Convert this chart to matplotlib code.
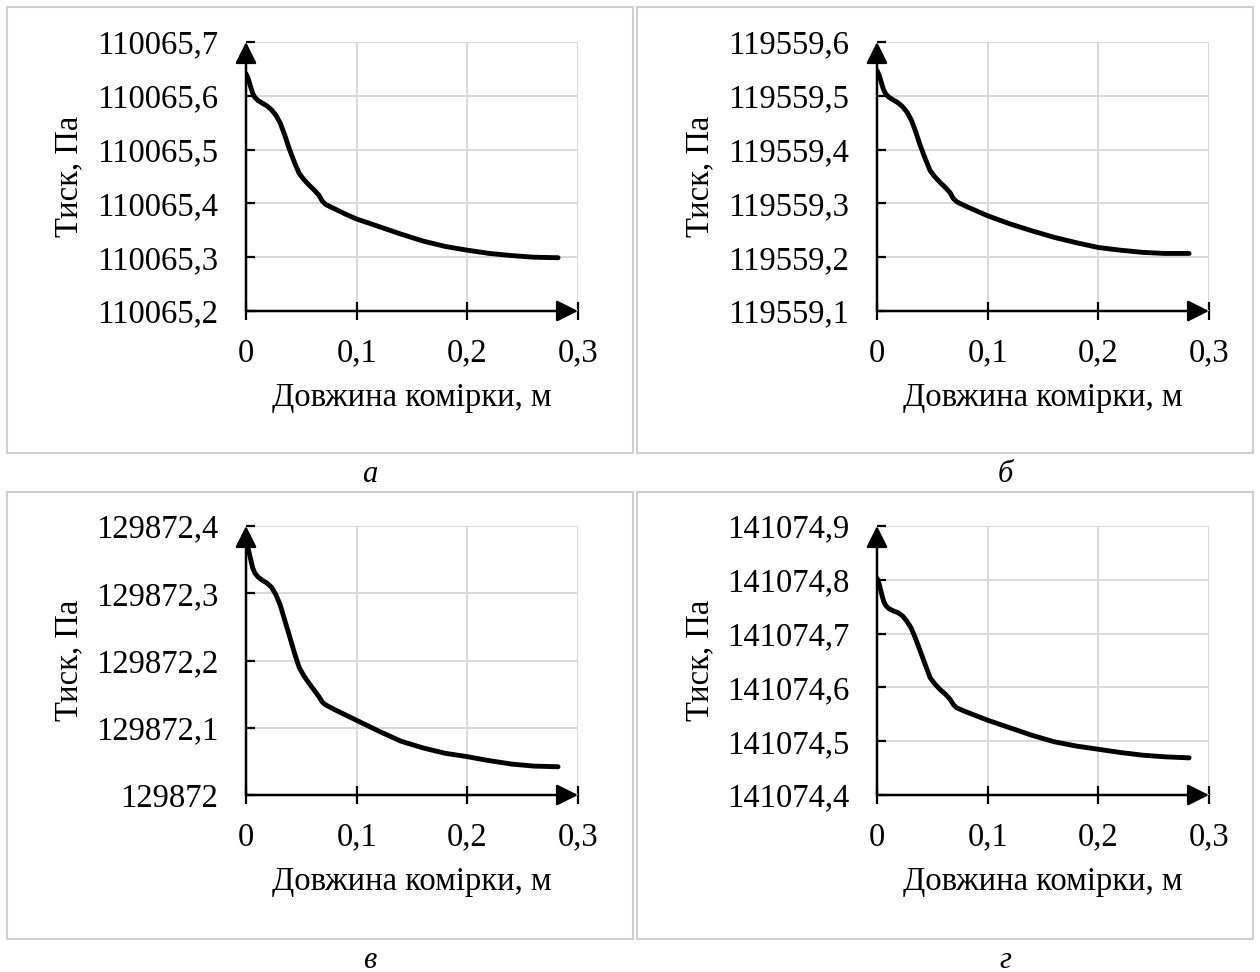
import matplotlib.pyplot as plt
from matplotlib.patches import Rectangle

plt.rcParams['font.family'] = ['Liberation Serif', 'DejaVu Serif']

# cell length, m (shared by all four panels)
x_len = [0, 0.002, 0.004, 0.006, 0.008, 0.011, 0.015, 0.019, 0.023, 0.027, 0.031,
         0.035, 0.039, 0.044, 0.048, 0.052, 0.057, 0.062, 0.066, 0.069, 0.072,
         0.08, 0.09, 0.1, 0.12, 0.14, 0.16, 0.18, 0.2, 0.22, 0.24, 0.26, 0.282]

# pressure, Pa
p_a = [110065.641, 110065.632, 110065.618, 110065.605, 110065.597, 110065.591,
       110065.586, 110065.581, 110065.574, 110065.564, 110065.549, 110065.527,
       110065.502, 110065.475, 110065.456, 110065.445, 110065.434, 110065.424,
       110065.415, 110065.404, 110065.398, 110065.390, 110065.380, 110065.371,
       110065.357, 110065.343, 110065.330, 110065.320, 110065.313, 110065.307,
       110065.303, 110065.300, 110065.299]
p_b = [119559.547, 119559.538, 119559.524, 119559.511, 119559.503, 119559.497,
       119559.492, 119559.487, 119559.480, 119559.470, 119559.455, 119559.433,
       119559.408, 119559.381, 119559.361, 119559.350, 119559.339, 119559.329,
       119559.320, 119559.309, 119559.303, 119559.295, 119559.286, 119559.277,
       119559.262, 119559.249, 119559.237, 119559.227, 119559.218, 119559.213,
       119559.209, 119559.207, 119559.207]
p_c = [129872.376, 129872.366, 129872.352, 129872.338, 129872.330, 129872.324,
       129872.319, 129872.315, 129872.309, 129872.298, 129872.282, 129872.260,
       129872.238, 129872.210, 129872.190, 129872.178, 129872.166, 129872.155,
       129872.146, 129872.138, 129872.134, 129872.127, 129872.119, 129872.111,
       129872.095, 129872.080, 129872.070, 129872.062, 129872.057, 129872.051,
       129872.046, 129872.043, 129872.042]
p_d = [141074.803, 141074.792, 141074.775, 141074.760, 141074.752, 141074.746,
       141074.742, 141074.739, 141074.733, 141074.723, 141074.710, 141074.690,
       141074.668, 141074.640, 141074.618, 141074.607, 141074.596, 141074.587,
       141074.578, 141074.568, 141074.562, 141074.555, 141074.547, 141074.539,
       141074.525, 141074.511, 141074.499, 141074.491, 141074.485, 141074.479,
       141074.474, 141074.471, 141074.469]

x_ticks = [0, 0.1, 0.2, 0.3]
x_labels = ['0', '0,1', '0,2', '0,3']

yt_a = [110065.2, 110065.3, 110065.4, 110065.5, 110065.6, 110065.7]
yl_a = ['110065,2', '110065,3', '110065,4', '110065,5', '110065,6', '110065,7']
yt_b = [119559.1, 119559.2, 119559.3, 119559.4, 119559.5, 119559.6]
yl_b = ['119559,1', '119559,2', '119559,3', '119559,4', '119559,5', '119559,6']
yt_c = [129872.0, 129872.1, 129872.2, 129872.3, 129872.4]
yl_c = ['129872', '129872,1', '129872,2', '129872,3', '129872,4']
yt_d = [141074.4, 141074.5, 141074.6, 141074.7, 141074.8, 141074.9]
yl_d = ['141074,4', '141074,5', '141074,6', '141074,7', '141074,8', '141074,9']

panel_names = ['а', 'б', 'в', 'г']

W, H = 1260, 972
fig = plt.figure(figsize=(12.6, 9.72), dpi=100)

# frames around each chart (pixels: x0, y0, x1, y1)
frames = [(7, 7, 633, 453), (637, 7, 1253, 453), (7, 492, 633, 939), (637, 492, 1253, 939)]
for x0, y0, x1, y1 in frames:
    fig.patches.append(Rectangle((x0 / W, 1 - y1 / H), (x1 - x0) / W, (y1 - y0) / H,
                                 transform=fig.transFigure, fill=False,
                                 edgecolor='#d0d0d0', lw=1.5))

# axes boxes in pixels: left, top
ax_pos = [(246, 42), (877, 42), (246, 526), (877, 526)]
name_pos = [(370, 474), (1005, 474), (370, 960), (1005, 960)]

panels = [(p_a, yt_a, yl_a), (p_b, yt_b, yl_b), (p_c, yt_c, yl_c), (p_d, yt_d, yl_d)]

for (p, yt, yl), (l, t), name, (nx, ny) in zip(panels, ax_pos, panel_names, name_pos):
    ax = fig.add_axes([l / W, 1 - (t + 269) / H, 332 / W, 269 / H])
    ax.plot(x_len, p, color='black', lw=3.5, solid_capstyle='round',
            solid_joinstyle='round', zorder=3)
    ax.set_xlim(0, 0.3)
    ax.set_ylim(yt[0], yt[-1])
    ax.set_xticks(x_ticks, x_labels)
    ax.set_yticks(yt, yl)
    ax.grid(True, color='#d9d9d9', lw=1.4)
    ax.set_axisbelow(True)
    for s in ax.spines.values():
        s.set_visible(False)
    ax.tick_params(axis='y', direction='in', length=6.5, width=1.6, pad=20, labelsize=23.5)
    ax.tick_params(axis='x', direction='inout', length=13, width=1.6, pad=13, labelsize=23.5)
    # axis lines with arrow heads
    arrow = dict(arrowstyle='-|>,head_length=1.0,head_width=0.5', mutation_scale=13,
                 lw=1.8, color='black', shrinkA=0, shrinkB=0)
    ax.annotate('', xy=(0, 1), xytext=(0, 0), xycoords='axes fraction',
                arrowprops=arrow, annotation_clip=False)
    ax.annotate('', xy=(1, 0), xytext=(0, 0), xycoords='axes fraction',
                arrowprops=arrow, annotation_clip=False)
    ax.set_xlabel('Довжина комірки, м', fontsize=23.5)
    ax.set_ylabel('Тиск, Па', fontsize=23.5)
    ax.xaxis.set_label_coords(0.5, -0.323)
    ax.xaxis.label.set_va('center')
    ax.yaxis.set_label_coords(-0.533, 0.5)
    ax.yaxis.label.set_va('center')
    fig.text(nx / W, 1 - ny / H, name, fontsize=22, style='italic',
             ha='center', va='center')

fig.savefig('out.png', dpi=100, facecolor='white')
